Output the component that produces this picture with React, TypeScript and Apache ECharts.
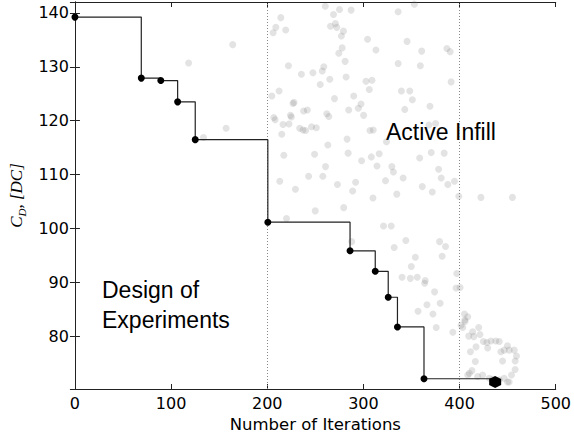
import React, { useEffect, useRef } from "react";
import * as echarts from "echarts";

// Best-so-far drag coefficient after each improving evaluation
const bestIter = [0, 69, 89.3, 106.8, 125.1, 200.6, 286.1, 312.3, 325.8, 335.4, 363, 437];
const bestCd = [139.2, 127.9, 127.45, 123.5, 116.5, 101.2, 95.9, 92.1, 87.3, 81.8, 72.2, 71.6];

// Design-of-experiments samples that fall inside the plotted range
const doeSamples: [number, number][] = [
  [118.2, 130.7], [133.7, 116.9], [157.2, 118.6], [164.1, 134.1],
];

// Samples evaluated during active infill (iteration, C_D)
const infillSamples: [number, number][] = [
  [260.3, 141.2], [275.1, 140.6], [268.9, 139.7], [287.2, 140.5], [336.1, 140.2],
  [214.1, 139.1], [208.9, 137.3], [206.1, 136.3], [219.2, 136.8], [265.8, 137.5],
  [270.9, 138.0], [272.3, 137.3], [279.2, 136.6], [277.1, 135.7], [304.3, 135.1],
  [277.9, 133.5], [313.0, 133.1], [274.4, 132.5], [336.1, 130.6], [281.0, 131.0],
  [222.0, 130.2], [235.5, 128.6], [247.5, 128.9], [257.2, 129.2], [258.8, 130.0],
  [265.0, 127.7], [282.0, 128.1], [302.7, 127.3], [308.9, 127.5], [255.1, 126.7],
  [306.1, 125.8], [212.3, 125.5], [204.8, 124.6], [269.9, 124.1], [289.9, 124.6],
  [226.8, 123.2], [227.8, 123.4], [237.8, 121.8], [241.7, 122.0], [284.7, 122.0],
  [294.7, 122.3], [297.5, 123.1], [300.2, 121.0], [261.9, 121.3], [264.0, 120.8],
  [224.1, 121.0], [225.1, 120.7], [206.8, 120.6], [208.2, 120.2], [216.4, 119.3],
  [222.6, 119.4], [215.1, 117.5], [233.7, 118.6], [237.1, 118.3], [239.9, 118.2],
  [246.1, 118.9], [251.0, 118.7], [306.8, 118.2], [310.2, 118.3], [283.0, 116.6],
  [324.0, 116.1], [263.0, 115.5], [217.2, 113.6], [249.2, 113.8], [284.1, 114.0],
  [298.1, 112.6], [308.2, 113.3], [316.4, 113.9], [260.6, 111.5], [314.1, 111.6],
  [329.6, 111.5], [331.2, 110.5], [243.0, 109.7], [257.8, 109.7], [213.0, 108.8],
  [273.0, 108.2], [291.9, 108.6], [323.0, 108.9], [229.3, 107.3], [288.8, 107.0],
  [309.9, 105.7], [334.7, 106.4], [353.0, 141.6], [345.4, 134.7], [360.6, 132.9],
  [386.8, 133.4], [390.2, 132.8], [359.2, 130.2], [391.2, 127.2], [339.5, 125.5],
  [348.2, 125.5], [350.9, 123.9], [343.0, 122.1], [369.2, 122.7], [368.1, 119.2],
  [375.1, 119.5], [358.5, 113.1], [370.5, 114.1], [384.0, 114.0], [378.2, 111.0],
  [380.9, 109.4], [387.8, 108.2], [394.7, 108.8], [341.3, 109.4], [361.2, 107.8],
  [371.6, 106.8], [399.2, 106.0], [422.2, 105.8], [455.0, 105.8], [220.0, 101.9],
  [249.9, 103.3], [279.5, 103.9], [320.9, 100.5], [328.9, 100.5], [287.8, 97.6],
  [332.0, 96.5], [344.1, 97.8], [379.2, 97.6], [385.4, 96.7], [354.0, 94.7],
  [381.9, 94.9], [349.8, 93.0], [340.2, 91.0], [348.8, 90.8], [356.0, 91.0],
  [364.3, 90.4], [363.7, 89.9], [374.0, 88.3], [397.1, 91.7], [396.4, 89.0],
  [400.5, 89.1], [366.1, 85.9], [379.8, 86.2], [356.8, 84.7], [372.3, 84.2],
  [375.7, 81.7], [393.0, 80.8], [401.6, 82.1], [403.3, 81.7], [408.5, 83.7],
  [405.7, 82.8], [413.6, 80.9], [419.9, 81.7], [409.5, 80.1], [414.7, 80.0],
  [421.2, 80.4], [424.7, 79.1], [428.4, 78.9], [432.6, 79.2], [437.7, 79.2],
  [441.3, 79.1], [417.1, 78.1], [411.3, 77.2], [429.2, 77.9], [449.8, 78.3],
  [446.4, 77.5], [451.6, 77.5], [442.9, 77.2], [456.8, 77.5], [459.2, 76.4],
  [457.8, 75.5], [416.4, 75.4], [444.7, 75.5], [457.8, 73.9], [412.9, 73.7],
  [408.5, 72.9], [410.2, 73.2], [424.0, 72.9], [430.9, 72.3], [434.3, 72.1],
  [441.3, 72.0], [446.4, 72.3], [449.8, 71.6], [451.6, 71.6], [454.0, 72.9],
  [418.8, 72.6], [405.1, 84.2], [405.4, 83.1],
];

// Phase boundaries (iterations)
const phaseBounds = [200, 400];

const xTicks = { min: 0, max: 500, step: 100 };
const yRange = { min: 70.3, max: 142, step: 10 };

const HEX = "path://M0,-1 L0.866,-0.5 L0.866,0.5 L0,1 L-0.866,0.5 L-0.866,-0.5 Z";

export default function App() {
  const ref = useRef<HTMLDivElement>(null);

  useEffect(() => {
    if (!ref.current) return;
    const chart = echarts.init(ref.current, null, { renderer: "svg" });

    const tickFont = { fontFamily: "DejaVu Sans", fontSize: 16, color: "#000" };
    const axisLine = { show: true, lineStyle: { color: "#222", width: 1 } };
    const axisTick = { show: true, inside: true, length: 5, lineStyle: { color: "#222" } };
    const serif = { fontFamily: "Liberation Serif", fontStyle: "italic", color: "#000" };

    const lastIdx = bestIter.length - 1;
    const bestData = bestIter.map((x, i) =>
      i === lastIdx
        ? { value: [x, bestCd[i]], symbol: HEX, symbolSize: 12 }
        : { value: [x, bestCd[i]] }
    );

    chart.setOption({
      animation: false,
      grid: { left: 74, top: 2, width: 484, height: 387, containLabel: false },
      xAxis: [
        {
          type: "value",
          min: xTicks.min,
          max: xTicks.max,
          interval: xTicks.step,
          axisLine,
          axisTick,
          splitLine: { show: false },
          axisLabel: { ...tickFont, margin: 6 },
          name: "Number of Iterations",
          nameLocation: "middle",
          nameGap: 25,
          nameTextStyle: { fontFamily: "DejaVu Sans", fontSize: 16.5, color: "#000" },
        },
        {
          type: "value",
          position: "top",
          min: xTicks.min,
          max: xTicks.max,
          interval: xTicks.step,
          axisLine,
          axisTick,
          splitLine: { show: false },
          axisLabel: { show: false },
        },
      ],
      yAxis: [
        {
          type: "value",
          min: yRange.min,
          max: yRange.max,
          splitNumber: 7,
          minInterval: yRange.step,
          maxInterval: yRange.step,
          axisLine,
          axisTick,
          splitLine: { show: false },
          axisLabel: {
            ...tickFont,
            margin: 6,
            formatter: (v: number) =>
              Math.abs(v / yRange.step - Math.round(v / yRange.step)) < 1e-6 ? String(Math.round(v)) : "",
          },
          name: "{a|C}{b|D}{a|, [DC]}",
          nameLocation: "middle",
          nameRotate: 90,
          nameGap: 38,
          nameTextStyle: {
            color: "#000",
            rich: {
              a: { ...serif, fontSize: 17, lineHeight: 22 },
              b: { ...serif, fontSize: 11, lineHeight: 22, verticalAlign: "bottom" },
            },
          },
        },
        {
          type: "value",
          position: "right",
          min: yRange.min,
          max: yRange.max,
          splitNumber: 7,
          minInterval: yRange.step,
          maxInterval: yRange.step,
          axisLine,
          axisTick,
          splitLine: { show: false },
          axisLabel: { show: false },
        },
      ],
      series: [
        {
          type: "scatter",
          data: doeSamples.concat(infillSamples),
          symbol: "circle",
          symbolSize: 7,
          itemStyle: { color: "rgba(120,120,120,0.26)" },
          z: 2,
          markLine: {
            silent: true,
            symbol: "none",
            label: { show: false },
            lineStyle: { color: "#888", type: [1, 2], width: 1 },
            data: phaseBounds.map((x) => ({ xAxis: x })),
          },
        },
        {
          type: "line",
          data: bestData,
          step: "end",
          symbol: "circle",
          symbolSize: 7,
          showAllSymbol: true,
          lineStyle: { color: "#222", width: 1.2 },
          itemStyle: { color: "#000" },
          z: 5,
        },
      ],
      graphic: [
        {
          type: "text",
          x: 102,
          y: 275,
          style: {
            text: "Design of\nExperiments",
            fontFamily: "Liberation Sans",
            fontSize: 23,
            lineHeight: 30,
            fill: "#000",
            align: "left",
            verticalAlign: "top",
          },
        },
        {
          type: "text",
          x: 386,
          y: 132,
          style: {
            text: "Active Infill",
            fontFamily: "Liberation Sans",
            fontSize: 23,
            fill: "#000",
            align: "left",
            verticalAlign: "middle",
          },
        },
      ],
    });

    return () => chart.dispose();
  }, []);

  return (
    <div
      ref={ref}
      style={{ position: "absolute", left: 0, top: 0, width: 574, height: 440, background: "#fff" }}
    />
  );
}
